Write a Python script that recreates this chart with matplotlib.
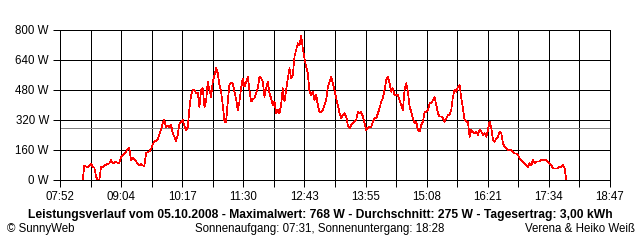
import numpy as np
import matplotlib
matplotlib.use("Agg")
import matplotlib.pyplot as plt

plt.rcParams["font.family"] = ["Liberation Sans", "DejaVu Sans"]
plt.rcParams["lines.antialiased"] = False
plt.rcParams["patch.antialiased"] = False

# x-axis labels (major ticks), time range of the chart
tick_labels = ["07:52", "09:04", "10:17", "11:30", "12:43",
               "13:55", "15:08", "16:21", "17:34", "18:47"]
y_ticks = [0, 160, 320, 480, 640, 800]

# first and last sample of the day, samples are evenly spaced
first_sample = "08:19"
last_sample = "17:55"

# power in W (about every 2 minutes)
power = [
    0,
    75, 72, 70, 78, 85, 72, 65, 20, 0, 0,
    71, 70, 75, 82, 85, 88, 107, 90, 92, 98,
    90, 92, 124, 130, 142, 150, 165, 170, 107, 120,
    110, 100, 85, 80, 85, 78, 75, 142, 150, 152,
    165, 190, 205, 210, 215, 245, 270, 305, 320, 280,
    290, 280, 295, 250, 230, 208, 240, 300, 311, 320,
    290, 267, 280, 382, 453, 480, 480, 462, 465, 391,
    480, 489, 391, 418, 524, 480, 444, 524, 560, 596,
    569, 507, 471, 400, 311, 311, 418, 507, 516, 516,
    471, 430, 373, 418, 489, 542, 498, 520, 551,
    480, 418, 430, 436, 462, 489, 551, 542, 524, 444,
    489, 524, 462, 436, 400, 418, 356, 373, 356, 400,
    489, 418, 480, 542, 596, 542, 560, 658, 693, 729,
    720, 768, 702, 649, 604, 569, 471, 453, 471, 427,
    453, 400, 364, 364, 373, 400, 427, 498, 524, 551, 516,
    480, 436, 400, 356, 329, 347, 356, 338, 293, 276,
    293, 302, 311, 320, 364, 356, 364, 338, 302, 267,
    276, 284, 284, 311, 329, 329, 356, 382, 418, 436,
    480, 533, 551, 516, 471, 489, 453, 453, 453, 427,
    400, 373, 480, 516, 471, 391, 364, 329, 302, 311, 267,
    258, 293, 311, 364, 364, 373, 409, 409, 427, 444,
    400, 356, 338, 338, 329, 311, 329, 347, 347, 373,
    444, 480, 471, 498, 507, 436, 382, 320, 311, 311,
    231, 267, 258, 249, 258, 240, 267, 258, 240, 249,
    231, 267, 311, 276, 213, 204, 222, 231, 258, 249, 196,
    178, 169, 160, 160, 160, 151, 142, 142, 133, 116,
    107, 98, 89, 80, 71, 89, 80, 107, 89, 98,
    98, 98, 107, 107, 107, 107, 98, 89, 80, 62,
    62, 62, 62, 71, 71, 80, 62,
    0,
]
average = 275

title = ("Leistungsverlauf vom 05.10.2008 - Maximalwert: 768 W - "
         "Durchschnitt: 275 W - Tagesertrag: 3,00 kWh")
footer_left = "© SunnyWeb"
footer_mid = "Sonnenaufgang: 07:31, Sonnenuntergang: 18:28"
footer_right = "Verena & Heiko Weiß"


def minutes(s):
    h, m = s.split(":")
    return int(h) * 60 + int(m)


t = np.linspace(minutes(first_sample), minutes(last_sample), len(power))
t0, t1 = minutes(tick_labels[0]), minutes(tick_labels[-1])
major = np.linspace(t0, t1, len(tick_labels))
minor = (major[:-1] + major[1:]) / 2

px = 0.72  # one pixel at 100 dpi
fig = plt.figure(figsize=(6.4, 2.4), dpi=100)
ax = fig.add_axes([60 / 640, 60 / 240, 550 / 640, 150 / 240])

ax.set_xlim(t0, t1)
ax.set_ylim(0, 800)
ax.set_xticks(major)
ax.set_xticklabels(tick_labels)
ax.set_xticks(minor, minor=True)
ax.set_yticks(y_ticks)
ax.set_yticklabels([f"{v} W" for v in y_ticks])

ax.xaxis.grid(True, which="both", color="black", lw=px)
ax.yaxis.grid(True, which="major", color="black", lw=px)
ax.set_axisbelow(True)
ax.tick_params(which="both", length=5, width=px, color="black",
               labelsize=8.3, pad=3)
for s in ax.spines.values():
    s.set_linewidth(px)
    s.set_color("black")

ax.axhline(average, color="#808080", lw=px, zorder=2)
ax.plot(t, power, color="#ff0000", lw=0.5, zorder=3)

fig.text(0.5, 1 - 215 / 240, title, ha="center", va="center",
         fontsize=8.7, fontweight="bold")
fig.text(7 / 640, 1 - 229 / 240, footer_left, ha="left", va="center", fontsize=8.3)
fig.text(320 / 640, 1 - 229 / 240, footer_mid, ha="center", va="center", fontsize=8.3)
fig.text(635 / 640, 1 - 229 / 240, footer_right, ha="right", va="center", fontsize=8.3)

fig.savefig("out.png", dpi=100, facecolor="white")
